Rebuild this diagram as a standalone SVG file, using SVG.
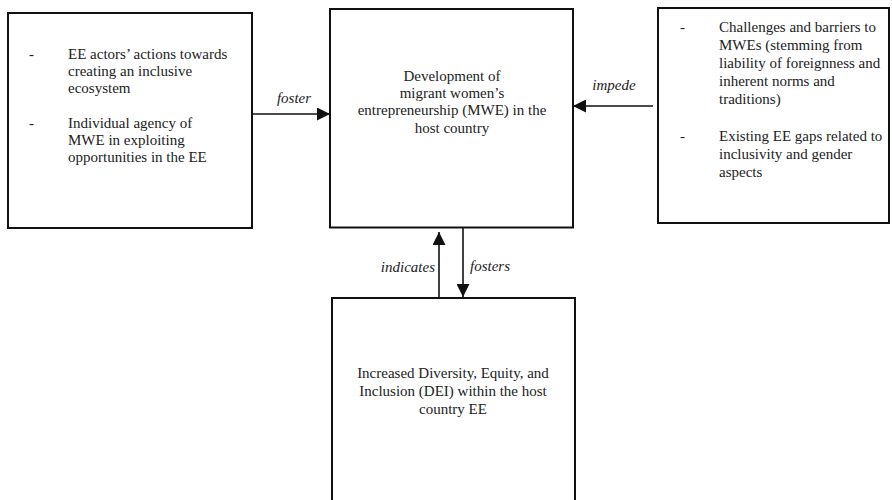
<svg xmlns="http://www.w3.org/2000/svg" width="892" height="500" viewBox="0 0 892 500">
<style>
.box{fill:#fff;stroke:#111;stroke-width:2}
.t{font-family:"Liberation Serif","Times New Roman",serif;font-size:15px;fill:#222}
.c{text-anchor:middle}
.lbl{font-family:"Liberation Serif","Times New Roman",serif;font-size:15px;font-style:italic;fill:#222}
.conn{stroke:#111;stroke-width:1.6;fill:none}
</style>
<defs>
<marker id="ah" viewBox="0 0 13 13" refX="13" refY="6.5" markerWidth="13" markerHeight="13" markerUnits="userSpaceOnUse" orient="auto">
<path d="M0,0 L13,6.5 L0,13 Z" fill="#111"/>
</marker>
</defs>
<rect width="892" height="500" fill="#fff"/>
<g id="node-left">
<rect class="box" x="8" y="13" width="244" height="215"/>
<text class="t" x="29" y="59">-</text>
<text class="t" x="68" y="59">EE actors’ actions towards</text>
<text class="t" x="68" y="76">creating an inclusive</text>
<text class="t" x="68" y="93">ecosystem</text>
<text class="t" x="29" y="128">-</text>
<text class="t" x="68" y="128">Individual agency of</text>
<text class="t" x="68" y="145">MWE in exploiting</text>
<text class="t" x="68" y="162">opportunities in the EE</text>
</g>
<g id="node-center">
<rect class="box" x="330" y="9" width="243" height="218.5"/>
<text class="t c" x="452" y="80.5">Development of</text>
<text class="t c" x="452" y="98">migrant women’s</text>
<text class="t c" x="452" y="115">entrepreneurship (MWE) in the</text>
<text class="t c" x="452" y="132.5">host country</text>
</g>
<g id="node-right">
<rect class="box" x="658" y="8" width="231" height="215"/>
<text class="t" x="680" y="32">-</text>
<text class="t" x="719" y="32">Challenges and barriers to</text>
<text class="t" x="719" y="50">MWEs (stemming from</text>
<text class="t" x="719" y="68">liability of foreignness and</text>
<text class="t" x="719" y="86">inherent norms and</text>
<text class="t" x="719" y="104">traditions)</text>
<text class="t" x="680" y="141">-</text>
<text class="t" x="719" y="141">Existing EE gaps related to</text>
<text class="t" x="719" y="159">inclusivity and gender</text>
<text class="t" x="719" y="177">aspects</text>
</g>
<g id="node-bottom">
<rect class="box" x="332" y="298" width="243" height="210"/>
<text class="t c" x="453" y="378">Increased Diversity, Equity, and</text>
<text class="t c" x="453" y="396">Inclusion (DEI) within the host</text>
<text class="t c" x="453" y="414">country EE</text>
</g>
<g id="connectors">
<line class="conn" x1="252" y1="114" x2="330" y2="114" marker-end="url(#ah)"/>
<text class="lbl c" x="294" y="103">foster</text>
<line class="conn" x1="653" y1="106" x2="573" y2="106" marker-end="url(#ah)"/>
<text class="lbl c" x="614" y="90">impede</text>
<line class="conn" x1="439" y1="298" x2="439" y2="232" marker-end="url(#ah)"/>
<text class="lbl" x="435" y="272" text-anchor="end">indicates</text>
<line class="conn" x1="463" y1="228" x2="463" y2="297" marker-end="url(#ah)"/>
<text class="lbl" x="470" y="271">fosters</text>
</g>
</svg>
